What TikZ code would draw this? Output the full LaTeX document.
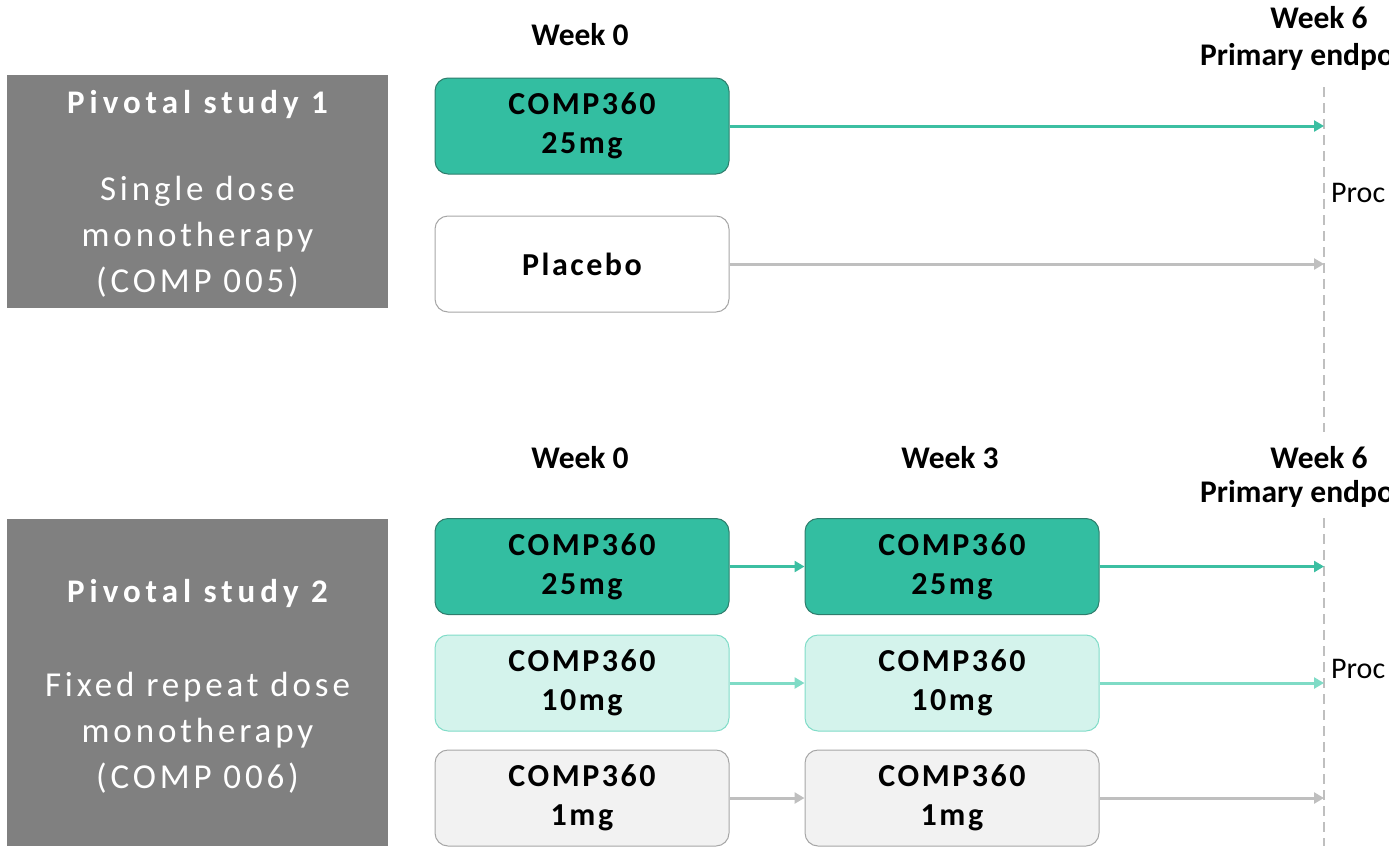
\documentclass[tikz,border=0pt]{standalone}
\usepackage{fontspec}
\setmainfont{Carlito}
\newfontfamily\boxfont[LetterSpace=8]{Carlito}
\newfontfamily\studyfont[LetterSpace=11]{Carlito}
\newfontfamily\titlefont[LetterSpace=15]{Carlito}
\usetikzlibrary{arrows.meta}
\definecolor{tealdark}{HTML}{33BEA1}
\definecolor{tealedge}{HTML}{2E7D6C}
\definecolor{teallight}{HTML}{D4F3EC}
\definecolor{teallightedge}{HTML}{80DCC8}
\definecolor{greyfill}{HTML}{F2F2F2}
\definecolor{greyedge}{HTML}{A6A6A6}
\definecolor{studygrey}{HTML}{808080}
\definecolor{tealarrow}{HTML}{3CBFA2}
\definecolor{lightarrow}{HTML}{7FDBC6}
\definecolor{greyarrow}{HTML}{BFBFBF}
\begin{document}
\begin{tikzpicture}[x=1pt,y=-1pt,
  studybox/.style={fill=studygrey, draw=none, minimum width=381pt, anchor=north west, inner sep=0pt},
  studytitle/.style={text=white, anchor=base, inner sep=0pt, font=\titlefont\bfseries\fontsize{33}{46}\selectfont},
  studydesc/.style={text=white, anchor=base, inner sep=0pt, align=center, font=\studyfont\fontsize{35}{46}\selectfont},
  dosebox/.style={rounded corners=13pt, minimum width=294pt, minimum height=96pt, inner sep=0pt, line width=1pt, align=center, font=\boxfont\bfseries\fontsize{32}{39}\selectfont},
  darkbox/.style={dosebox, fill=tealdark, draw=tealedge},
  lightbox/.style={dosebox, fill=teallight, draw=teallightedge},
  greybox/.style={dosebox, fill=greyfill, draw=greyedge},
  placebox/.style={dosebox, fill=white, draw=greyedge},
  weeklabel/.style={font=\bfseries\fontsize{31.5}{36}\selectfont, inner sep=0pt},
  proclabel/.style={font=\fontsize{30}{34}\selectfont, inner sep=0pt, anchor=base west},
  arr/.style={line width=3pt, -{Triangle[length=10pt,width=11pt]}},
  tarrow/.style={arr, draw=tealarrow},
  larrow/.style={arr, draw=lightarrow},
  garrow/.style={arr, draw=greyarrow},
  dashline/.style={draw=greyarrow, line width=1.5pt, dash pattern=on 10pt off 6pt}
]
\useasboundingbox (0,0) rectangle (1389,846);

% dashed endpoint lines
\coordinate (d1top) at (1324,87);
\coordinate (d1bot) at (1324,432);
\coordinate (d2top) at (1324,518);
\coordinate (d2bot) at (1324,846);
\draw[dashline] (d1top) -- (d1bot);
\draw[dashline] (d2top) -- (d2bot);

% study 1
\node[studybox, minimum height=233pt] (s1) at (7,75) {};
\node[studytitle] (s1t) at (197.5,113) {Pivotal study 1};
\node[studydesc] (s1d) at (197.5,292) {Single dose\\monotherapy\\(COMP 005)};

% study 2
\node[studybox, minimum height=327pt] (s2) at (7,519) {};
\node[studytitle] (s2t) at (197.5,602) {Pivotal study 2};
\node[studydesc] (s2d) at (197.5,788) {Fixed repeat dose\\monotherapy\\(COMP 006)};

% headers study 1
\node[weeklabel, anchor=base] (w0a) at (580,45) {Week 0};
\node[weeklabel, anchor=base] (w6a) at (1319,28) {Week 6};
\node[weeklabel, anchor=base west] (pea) at (1200,65) {Primary endpo};
\node[proclabel] (pra) at (1331,202) {Proc};

% headers study 2
\node[weeklabel, anchor=base] (w0b) at (580,468) {Week 0};
\node[weeklabel, anchor=base] (w3b) at (950,468) {Week 3};
\node[weeklabel, anchor=base] (w6b) at (1319,468) {Week 6};
\node[weeklabel, anchor=base west] (peb) at (1200,502) {Primary endpo};
\node[proclabel] (prb) at (1331,678) {Proc};

% study 1 boxes
\node[darkbox] (a1) at (582,126) {COMP360\\25mg};
\node[placebox] (a2) at (582,264) {Placebo};
\draw[tarrow] (a1.east) -- (a1.east -| d1top);
\draw[garrow] (a2.east) -- (a2.east -| d1top);

% study 2 boxes
\node[darkbox] (b1) at (582,566.5) {COMP360\\25mg};
\node[darkbox] (c1) at (952,566.5) {COMP360\\25mg};
\node[lightbox] (b2) at (582,683) {COMP360\\10mg};
\node[lightbox] (c2) at (952,683) {COMP360\\10mg};
\node[greybox] (b3) at (582,798) {COMP360\\1mg};
\node[greybox] (c3) at (952,798) {COMP360\\1mg};

\draw[tarrow] (b1) -- (c1);
\draw[larrow] (b2) -- (c2);
\draw[garrow] (b3) -- (c3);
\draw[tarrow] (c1.east) -- (c1.east -| d2top);
\draw[larrow] (c2.east) -- (c2.east -| d2top);
\draw[garrow] (c3.east) -- (c3.east -| d2top);
\end{tikzpicture}
\end{document}
